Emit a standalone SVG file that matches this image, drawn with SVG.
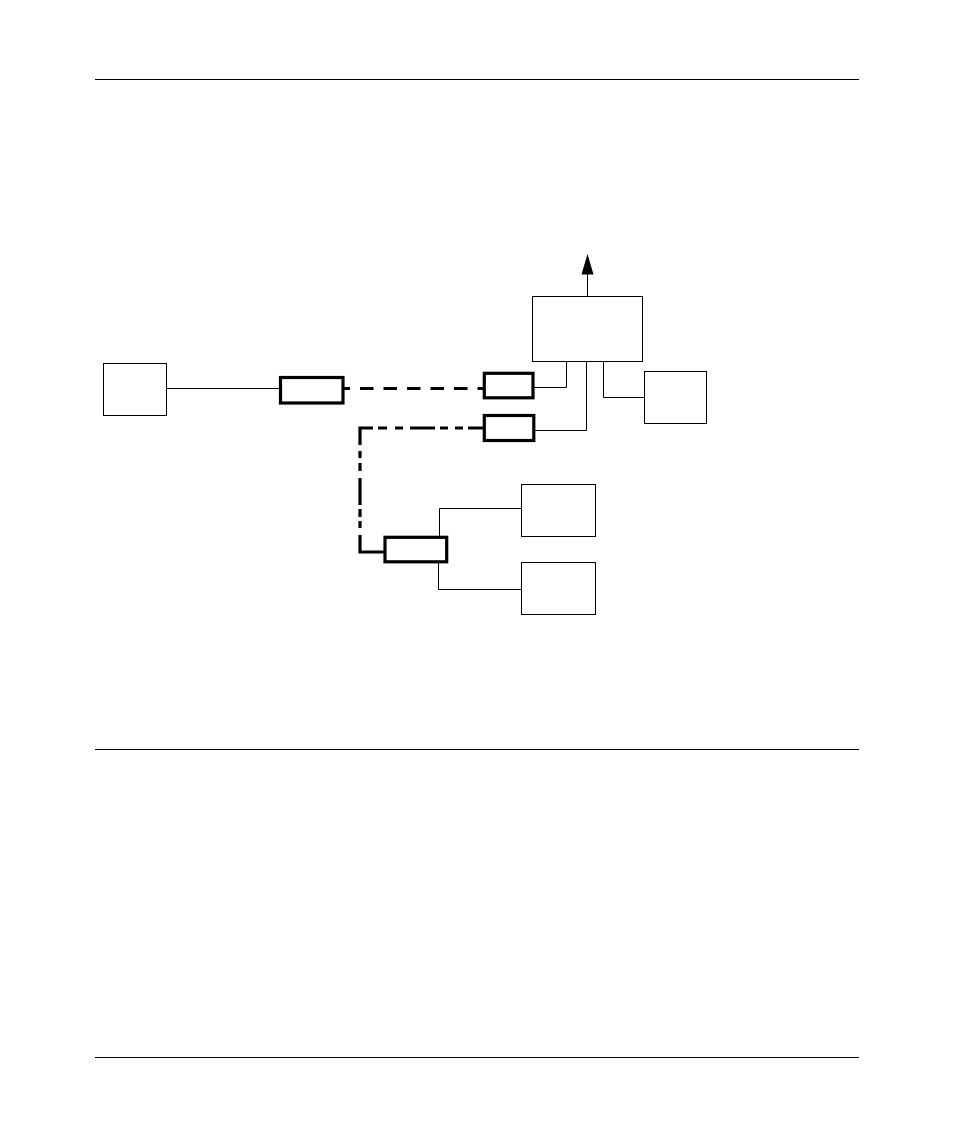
<svg xmlns="http://www.w3.org/2000/svg" width="954" height="1145" viewBox="0 0 954 1145">
<style>
.thin{fill:#fff;stroke:#000;stroke-width:1}
.thick{fill:#fff;stroke:#000;stroke-width:3.2}
.ln{fill:none;stroke:#000;stroke-width:1}
.bold{fill:none;stroke:#000;stroke-width:3.2}
.rule{fill:none;stroke:#000;stroke-width:1.2}
</style>
<rect width="954" height="1145" fill="#fff"/>
<g id="rules">
<line class="rule" x1="95" y1="79.5" x2="859" y2="79.5"/>
<line class="rule" x1="95" y1="749.5" x2="859" y2="749.5"/>
<line class="rule" x1="95" y1="1057.5" x2="859" y2="1057.5"/>
</g>
<g id="connectors">
<line class="ln" x1="166" y1="388.5" x2="280" y2="388.5"/>
<line class="bold" x1="344" y1="388.5" x2="483" y2="388.5" stroke-dasharray="13.5 10" stroke-dashoffset="7.5"/>
<path class="bold" d="M483,428 H468 M463,428 H455 M448,428 H440 M435,428 H410 M403,428 H395 M387,428 H378 M373,428 H360 V445 M360,451 V458 M360,463 V471 M360,478 V505 M360,509 V517 M360,521 V528 M360,535 V552 H385"/>
<path class="ln" d="M534,387.5 H566.5 V361"/>
<path class="ln" d="M534,430.5 H586.5 V361"/>
<path class="ln" d="M603.5,361 V397.5 H645"/>
<path class="ln" d="M439.5,537 V508.5 H521"/>
<path class="ln" d="M438.5,563 V589.5 H521"/>
<line class="ln" x1="587.5" y1="296" x2="587.5" y2="272"/>
<polygon points="587.5,254 581.5,274.5 593.5,274.5" fill="#000"/>
</g>
<g id="n-left"><rect class="thin" x="103.5" y="363.5" width="63" height="52"/></g>
<g id="n-main"><rect class="thin" x="532.5" y="296.5" width="110" height="65"/></g>
<g id="n-right"><rect class="thin" x="644.5" y="371.5" width="62" height="52"/></g>
<g id="n-br1"><rect class="thin" x="521.5" y="484.5" width="74" height="52"/></g>
<g id="n-br2"><rect class="thin" x="521.5" y="562.5" width="74" height="52"/></g>
<g id="t1"><rect class="thick" x="280.5" y="377.5" width="62.5" height="25.5"/></g>
<g id="t2"><rect class="thick" x="484.3" y="373.3" width="48.7" height="24.5"/></g>
<g id="t3"><rect class="thick" x="484.3" y="415.5" width="49.5" height="25"/></g>
<g id="t4"><rect class="thick" x="385" y="537.3" width="61.7" height="24.5"/></g>
</svg>
